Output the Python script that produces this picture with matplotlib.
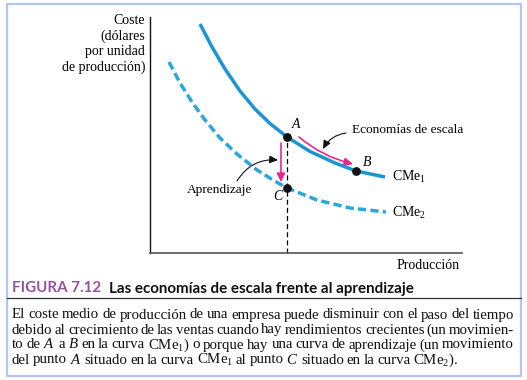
import matplotlib
matplotlib.use("Agg")
import matplotlib.pyplot as plt
from matplotlib.transforms import Affine2D
from matplotlib.patches import Rectangle, FancyArrowPatch
from matplotlib.lines import Line2D

plt.rcParams['mathtext.fontset'] = 'custom'
plt.rcParams['mathtext.rm'] = 'Liberation Serif'
plt.rcParams['mathtext.it'] = 'Liberation Serif:italic'

# ---- data (axis units: production, cost) ----
cme1_x = [50, 62, 75, 90, 105, 120, 137, 160, 185, 206, 235]
cme1_y = [229, 206, 184, 162, 144, 129.5, 116, 101.5, 90, 82, 76]
cme2_x = [19, 30, 42, 55, 70, 87, 107, 123, 137, 167, 200, 236]
cme2_y = [191, 170, 151, 133, 115, 99, 83, 73, 65, 53, 45, 41]
point_names = ['A', 'B', 'C']
point_x = [137, 206, 137]
point_y = [116, 82, 65]
curve_labels = ['CMe$_1$', 'CMe$_2$']

title_num = 'FIGURA 7.12'
title_txt = 'Las economías de escala frente al aprendizaje'
caption_lines = [
    'El coste medio de producción de una empresa puede disminuir con el paso del tiempo',
    'debido al crecimiento de las ventas cuando hay rendimientos crecientes (un movimien-',
    'to de $A$ a $B$ en la curva CMe$_1$) o porque hay una curva de aprendizaje (un movimiento',
    'del punto $A$ situado en la curva CMe$_1$ al punto $C$ situado en la curva CMe$_2$).',
]

W, H = 527, 380
fig = plt.figure(figsize=(W / 100, H / 100), dpi=100)
px = Affine2D().scale(1, -1).translate(0, H)  # pixel coords, y down

SERIF = 'Liberation Serif'
BLUE1 = '#1b95d6'
BLUE2 = '#2aa7e1'
PINK = '#e8268e'

# frame
fig.patches.append(Rectangle((6.5, 3.5), 514.5, 372, transform=px, fill=False,
                             ec='#b6c5ee', lw=1.6))
fig.lines.append(Line2D([6.5, 521], [298, 298], transform=px, color='#333333', lw=0.9))

# axes
ax = fig.add_axes([150 / W, (H - 253) / H, 312 / W, 236 / H])
ax.set_xlim(0, 312)
ax.set_ylim(0, 236)
ax.patch.set_alpha(0)
for s in ['top', 'right']:
    ax.spines[s].set_visible(False)
ax.spines['left'].set_color('#111111')
ax.spines['bottom'].set_color('#555555')
ax.spines['left'].set_linewidth(1.0)
ax.spines['bottom'].set_linewidth(1.2)
ax.set_xticks([])
ax.set_yticks([])
for s in ax.spines.values():
    s.set_clip_on(False)

ax.plot(cme1_x, cme1_y, color=BLUE1, lw=2.5, solid_capstyle='butt',
        solid_joinstyle='round', clip_on=False)
ax.plot(cme2_x, cme2_y, color=BLUE2, lw=2.5, ls=(0, (2.4, 1.2)), clip_on=False)

# dashed vertical at A
ax.plot([point_x[0], point_x[0]], [0, point_y[0]], color='black', lw=0.9,
        ls=(0, (4, 2.5)), clip_on=False)

ax.scatter(point_x, point_y, s=28, color='#111111', zorder=5, clip_on=False)

# point labels
ax.text(point_x[0] + 9, point_y[0] + 12, point_names[0], family=SERIF, style='italic',
        fontsize=10, ha='center', va='center')
ax.text(point_x[1] + 11, point_y[1] + 8, point_names[1], family=SERIF, style='italic',
        fontsize=10, ha='center', va='center')
ax.text(point_x[2] - 9, point_y[2] - 9, point_names[2], family=SERIF, style='italic',
        fontsize=10, ha='center', va='center')

# curve labels
ax.text(cme1_x[-1] + 7, cme1_y[-1], curve_labels[0], family=SERIF, fontsize=10,
        ha='left', va='center')
ax.text(cme2_x[-1] + 6, cme2_y[-1] - 1, curve_labels[1], family=SERIF, fontsize=10,
        ha='left', va='center')

# pink arrows
ax.add_patch(FancyArrowPatch((131, 110), (131, 71), arrowstyle='-|>,head_length=5,head_width=2.5',
                             color=PINK, lw=1.2, shrinkA=0, shrinkB=0, clip_on=False))
ax.add_patch(FancyArrowPatch((149, 116), (203, 89), arrowstyle='-|>,head_length=5,head_width=2.5',
                             connectionstyle='arc3,rad=0.12',
                             color=PINK, lw=1.2, shrinkA=0, shrinkB=0, clip_on=False))

# annotation labels + black arrows
ax.text(202, 123, 'Economías de escala', family=SERIF, fontsize=9.6, ha='left', va='center')
ax.add_patch(FancyArrowPatch((196, 120), (173, 104), arrowstyle='-|>,head_length=5,head_width=2.3',
                             connectionstyle='arc3,rad=0.25',
                             color='#111111', lw=0.8, shrinkA=0, shrinkB=0, clip_on=False))
ax.text(37, 63, 'Aprendizaje', family=SERIF, fontsize=9.6, ha='left', va='center')
ax.add_patch(FancyArrowPatch((87, 72), (128, 93), arrowstyle='-|>,head_length=5,head_width=2.3',
                             connectionstyle='arc3,rad=-0.3',
                             color='#111111', lw=0.8, shrinkA=0, shrinkB=0, clip_on=False))

# axis titles
fig.text(145, 14.5, 'Coste\n(dólares\npor unidad\nde producción)', transform=px, family=SERIF,
         fontsize=10, ha='right', va='top', multialignment='right', linespacing=1.2)
fig.text(460, 269, 'Producción', transform=px, family=SERIF, fontsize=10, ha='right',
         va='baseline')

# title
r = fig.canvas.get_renderer()
t1 = fig.text(12, 292.5, title_num, transform=px, family='Lato', weight='bold', fontsize=10.9,
              color='#9b4f9f', va='baseline')
w1 = t1.get_window_extent(r).width
fig.text(12 + w1 + 8, 292.5, title_txt, transform=px, family='Lato', weight='bold',
         fontsize=10.9, color='#111111', va='baseline')

# caption, justified
def place_line(line, y, x0, x1, justify):
    words = line.split(' ')
    ts = [fig.text(0, 0, w, transform=px, family=SERIF, fontsize=10.7, va='baseline',
                   color='#111111') for w in words]
    ws = [t.get_window_extent(r).width for t in ts]
    if justify:
        gap = (x1 - x0 - sum(ws)) / (len(words) - 1)
    else:
        gap = 2.8
    x = x0
    for t, w in zip(ts, ws):
        t.set_position((x, y))
        x += w + gap

base = [318.5, 333.5, 348.5, 363.5]
for i, line in enumerate(caption_lines):
    place_line(line, base[i], 12, 514, i < len(caption_lines) - 1)

fig.savefig('out.png', dpi=100)
